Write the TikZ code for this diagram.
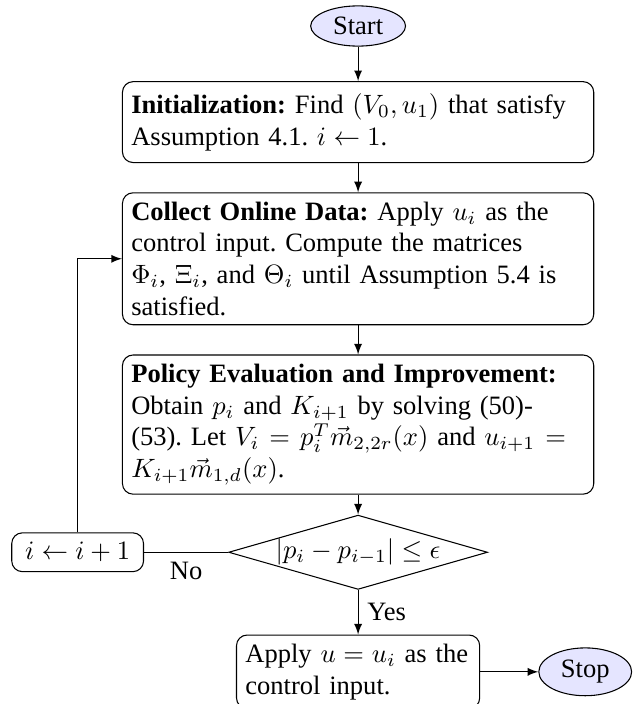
\documentclass[tikz,border=0pt]{standalone}
\usepackage[no-math]{fontspec}
\setmainfont{Liberation Serif}
\usepackage{amsmath,amssymb}
\usetikzlibrary{shapes.geometric,arrows,positioning}

\begin{document}
\begin{tikzpicture}[node distance=11pt,>=latex,
  term/.style={ellipse,draw,fill=blue!10,inner xsep=3.2pt,inner ysep=2pt},
  block/.style={rectangle,draw,rounded corners,text width=171pt,align=left,
    font={\frenchspacing\hyphenpenalty=10000}},
  decision/.style={diamond,draw,aspect=3.45,inner sep=0pt,minimum width=97.6pt,minimum height=27.5pt}]
\useasboundingbox (-135pt,9.8pt) rectangle (107.1pt,-255.6pt);
\node[term] (start) {Start};
\node[block,below=13pt of start,minimum height=30.5pt] (init) {\textbf{Initialization:} Find $(V_0,u_1)$ that satisfy Assumption 4.1. $i\leftarrow 1$.};
\node[block,below=of init] (collect) {\textbf{Collect Online Data:} Apply $u_i$ as the control input. Compute the matrices $\Phi_i$, $\Xi_i$, and $\Theta_i$ until Assumption 5.4 is satisfied.};
\node[block,below=of collect] (policy) {\textbf{Policy Evaluation and Improvement:} Obtain $p_i$ and $K_{i+1}$ by solving (50)-(53). Let $V_i=p_i^T\vec{m}_{2,2r}(x)$ and $u_{i+1}=K_{i+1}\vec{m}_{1,d}(x)$.};
\node[decision,below=7.5pt of policy] (dec) {$|p_i-p_{i-1}|\leq\epsilon$};
\node[draw,rounded corners,inner xsep=5pt,inner ysep=3.6pt,left=31.7pt of dec] (inc) {$i\leftarrow i+1$};
\node[block,text width=85pt,minimum height=27pt,below=16.8pt of dec] (apply) {Apply $u=u_i$ as the control input.};
\node[term,right=21.9pt of apply] (stop) {Stop};
\draw[->] (start) -- (init);
\draw[->] (init) -- (collect);
\draw[->] (collect) -- (policy);
\draw[->] (policy) -- (dec);
\draw[->] (dec) -- node[right] {Yes} (apply);
\draw (dec) -- node[below] {No} (inc);
\draw[->] (inc) |- (collect);
\draw[->] (apply) -- (stop);
\end{tikzpicture}
\end{document}
